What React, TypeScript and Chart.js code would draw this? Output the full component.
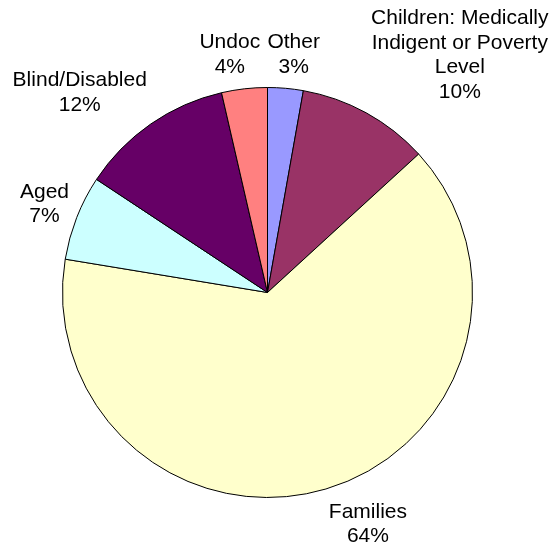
import React, { useEffect, useRef } from "react";
import { Chart, registerables } from "chart.js";

Chart.register(...registerables);

// ---- data ----
const categories: string[][] = [
  ["Other"],
  ["Children: Medically", "Indigent or Poverty", "Level"],
  ["Families"],
  ["Aged"],
  ["Blind/Disabled"],
  ["Undoc"],
];
const values: number[] = [2.8, 10.4, 64.4, 6.7, 12.1, 3.6];
const sliceColors: string[] = ["#9999FF", "#993366", "#FFFFCC", "#CCFFFF", "#660066", "#FF8080"];

// ---- label layout ----
const FONT_SIZE = 21;
const LINE_HEIGHT = 24.5;
const LABEL_GAP = 10;
const labelNudges: [number, number][] = [
  [5, 1],
  [46, -6],
  [28, 2],
  [0, -1],
  [-27, -3],
  [-10, 0],
];

const sliceLabelPlugin = {
  id: "sliceLabels",
  afterDatasetsDraw(chart: any) {
    const ctx = chart.ctx as CanvasRenderingContext2D;
    const meta = chart.getDatasetMeta(0);
    const total = values.reduce((a, b) => a + b, 0);
    ctx.save();
    ctx.font = `${FONT_SIZE}px "Liberation Sans", Arial, sans-serif`;
    ctx.fillStyle = "#000000";
    ctx.textAlign = "center";
    ctx.textBaseline = "middle";
    meta.data.forEach((arc: any, i: number) => {
      const { x, y, startAngle, endAngle, outerRadius } = arc.getProps(
        ["x", "y", "startAngle", "endAngle", "outerRadius"],
        true
      );
      const mid = (startAngle + endAngle) / 2;
      const ux = Math.cos(mid);
      const uy = Math.sin(mid);
      const lines = [...categories[i], Math.round((values[i] / total) * 100) + "%"];
      const w = Math.max(...lines.map((l) => ctx.measureText(l).width));
      const h = lines.length * LINE_HEIGHT;
      const r = outerRadius + LABEL_GAP;
      const cx = x + ux * r + (ux * w) / 2 + labelNudges[i][0];
      const cy = y + uy * r + (uy * h) / 2 + labelNudges[i][1];
      lines.forEach((l, j) => {
        ctx.fillText(l, cx, cy - h / 2 + LINE_HEIGHT * (j + 0.5));
      });
    });
    ctx.restore();
  },
};

export default function App() {
  const canvasRef = useRef<HTMLCanvasElement | null>(null);

  useEffect(() => {
    if (!canvasRef.current) return;
    const chart = new Chart(canvasRef.current, {
      type: "pie",
      data: {
        labels: categories,
        datasets: [
          {
            data: values,
            backgroundColor: sliceColors,
            borderColor: "#000000",
            borderWidth: 1,
          },
        ],
      },
      options: {
        animation: false,
        responsive: true,
        maintainAspectRatio: false,
        layout: { padding: { left: 62, right: 78, top: 87, bottom: 48 } },
        plugins: {
          legend: { display: false },
          tooltip: { enabled: false },
        },
      },
      plugins: [sliceLabelPlugin],
    });
    return () => chart.destroy();
  }, []);

  return (
    <div
      style={{
        position: "absolute",
        left: 0,
        top: 0,
        width: 551,
        height: 546,
        background: "#ffffff",
      }}
    >
      <canvas ref={canvasRef} />
    </div>
  );
}
